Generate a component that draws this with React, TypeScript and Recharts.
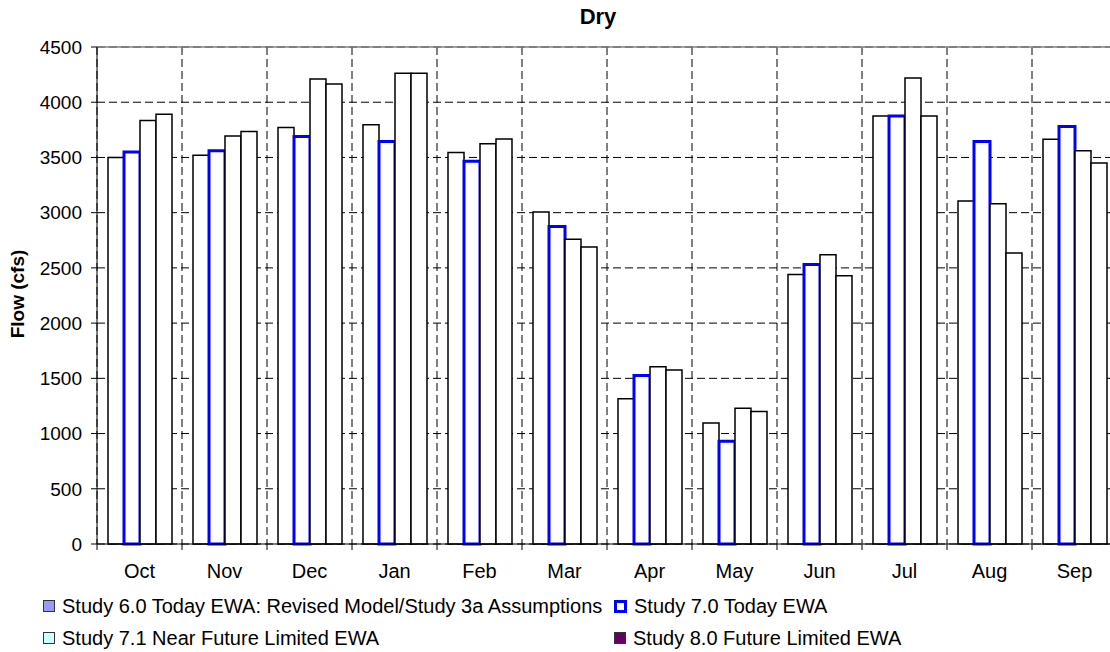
import { BarChart, Bar, XAxis, YAxis, CartesianGrid, ReferenceLine } from "recharts";

const months = ["Oct", "Nov", "Dec", "Jan", "Feb", "Mar", "Apr", "May", "Jun", "Jul", "Aug", "Sep"];
const study60 = [3500, 3520, 3770, 3795, 3545, 3005, 1315, 1095, 2440, 3875, 3105, 3665];
const study70 = [3550, 3560, 3690, 3645, 3465, 2875, 1525, 930, 2530, 3875, 3645, 3780];
const study71 = [3835, 3695, 4210, 4262, 3625, 2760, 1605, 1230, 2620, 4220, 3080, 3560];
const study80 = [3890, 3735, 4165, 4262, 3668, 2690, 1575, 1200, 2428, 3875, 2635, 3450];
const yTicks = [0, 500, 1000, 1500, 2000, 2500, 3000, 3500, 4000, 4500];
const boundaries = [0, 1, 2, 3, 4, 5, 6, 7, 8, 9, 10, 11, 12];

const legendItems = [
  { name: "Study 6.0 Today EWA: Revised Model/Study 3a Assumptions", fill: "#9999ff" },
  { name: "Study 7.0 Today EWA", fill: "#ffffff" },
  { name: "Study 7.1 Near Future Limited EWA", fill: "#ccffff" },
  { name: "Study 8.0 Future Limited EWA", fill: "#660066" },
];

const data = months.map((m, i) => ({
  month: m,
  s60: study60[i],
  s70: study70[i],
  s71: study71[i],
  s80: study80[i],
}));

const font = "'Liberation Sans', Arial, sans-serif";
const TICK_MARGIN = 20;

// month label at band centre, tick mark at the band's left edge (Excel "between" ticks)
function MonthTick(props: any) {
  const { x, y, payload } = props;
  const half = payload.offset || 0;
  const axisY = y - TICK_MARGIN;
  return (
    <g>
      <line x1={x - half} x2={x - half} y1={axisY} y2={axisY + 6} stroke="#000" />
      <text x={x} y={y} dy="0.71em" textAnchor="middle" fill="#000" fontSize={20} fontFamily={font}>
        {payload.value}
      </text>
    </g>
  );
}

export default function App() {
  return (
    <div
      style={{
        position: "absolute",
        left: 0,
        top: 0,
        width: 1110,
        height: 652,
        overflow: "hidden",
        background: "#fff",
        fontFamily: font,
      }}
    >
      <div style={{ position: "absolute", left: 0, width: 1196, top: 4, textAlign: "center", fontWeight: "bold", fontSize: 22 }}>
        Dry
      </div>
      <div
        style={{
          position: "absolute",
          left: 18,
          top: 294,
          transform: "translate(-50%, -50%) rotate(-90deg)",
          fontWeight: "bold",
          fontSize: 19,
          whiteSpace: "nowrap",
        }}
      >
        Flow (cfs)
      </div>
      <div style={{ position: "absolute", left: 0, top: 0 }}>
        <BarChart
          width={1125}
          height={652}
          data={data}
          margin={{ top: 47, right: 8, left: 0, bottom: 78 }}
          barCategoryGap={11}
          barGap={0}
        >
          <XAxis
            dataKey="month"
            tickLine={false}
            tickSize={0}
            tickMargin={TICK_MARGIN}
            height={30}
            axisLine={{ stroke: "#000" }}
            tick={<MonthTick />}
            interval={0}
          />
          <YAxis
            domain={[0, 4500]}
            ticks={yTicks}
            width={97}
            tickSize={6}
            tickMargin={9}
            axisLine={{ stroke: "#000" }}
            tickLine={{ stroke: "#000" }}
            tick={{ fill: "#000", fontSize: 19, fontFamily: font }}
          />
          <CartesianGrid
            stroke="#000"
            strokeDasharray="8 4"
            verticalCoordinatesGenerator={({ offset }: any) =>
              boundaries.map((b) => offset.left + (b / 12) * offset.width)
            }
          />
          <ReferenceLine y={4500} stroke="#808080" strokeWidth={1.5} />
          <Bar dataKey="s60" fill="#fff" stroke="#000" strokeWidth={1.5} isAnimationActive={false} />
          <Bar dataKey="s70" fill="#fff" stroke="#0000ff" strokeWidth={3} isAnimationActive={false} />
          <Bar dataKey="s71" fill="#fff" stroke="#000" strokeWidth={1.5} isAnimationActive={false} />
          <Bar dataKey="s80" fill="#fff" stroke="#000" strokeWidth={1.5} isAnimationActive={false} />
        </BarChart>
      </div>
      {legendItems.map((it, i) => (
        <div
          key={it.name}
          style={{
            position: "absolute",
            left: i % 2 === 0 ? 43 : 614,
            top: i < 2 ? 594 : 626,
            display: "flex",
            alignItems: "center",
            fontSize: 20,
            whiteSpace: "nowrap",
            lineHeight: "24px",
          }}
        >
          <span
            style={{
              display: "inline-block",
              width: i === 1 ? 7 : 10,
              height: i === 1 ? 7 : 10,
              background: it.fill,
              border: i === 1 ? "3px solid #0000ff" : "1px solid #333",
              marginRight: 7,
            }}
          />
          <span>{it.name}</span>
        </div>
      ))}
    </div>
  );
}
